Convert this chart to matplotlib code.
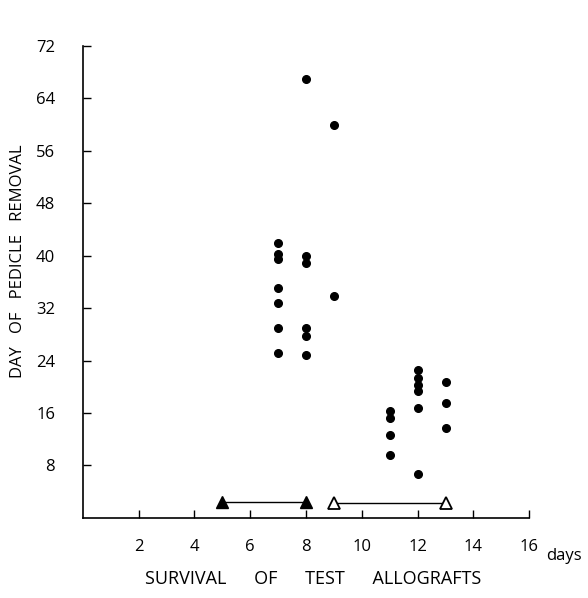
import matplotlib
matplotlib.use("Agg")
import matplotlib.pyplot as plt

# dots: survival of test allograft (days) vs day of pedicle removal
dots_x = [7, 7, 7, 7, 7, 7, 7,
          8, 8, 8, 8, 8, 8,
          9, 9,
          11, 11, 11, 11,
          12, 12, 12, 12, 12, 12,
          13, 13, 13]
dots_y = [42.0, 40.3, 39.5, 35.1, 32.8, 29.0, 25.1,
          67.0, 40.0, 38.9, 28.9, 27.8, 24.9,
          60.0, 33.9,
          16.3, 15.2, 12.6, 9.6,
          22.6, 21.3, 20.3, 19.4, 16.7, 6.7,
          20.7, 17.6, 13.7]

# control ranges shown as triangles joined by a line
filled_x = [5, 8]
filled_y = [2.4, 2.4]
open_x = [9, 13]
open_y = [2.2, 2.2]

x_ticks = [2, 4, 6, 8, 10, 12, 14, 16]
y_ticks = [8, 16, 24, 32, 40, 48, 56, 64, 72]

plt.rcParams["font.family"] = ["Open Sans", "DejaVu Sans"]

fig = plt.figure(figsize=(5.88, 5.98), dpi=100)
ax = fig.add_axes([0.141, 0.134, 0.759, 0.789])

ax.plot(dots_x, dots_y, "o", color="black", markersize=5.5, linestyle="none")
ax.plot(filled_x, filled_y, "-^", color="black", markersize=8, linewidth=1)
ax.plot(open_x, open_y, "-^", color="black", markerfacecolor="white",
        markeredgewidth=1.3, markersize=8, linewidth=1)

ax.set_xlim(0, 16)
ax.set_ylim(0, 72)
ax.set_xticks(x_ticks)
ax.set_yticks(y_ticks)
ax.tick_params(direction="in", length=6, width=1, labelsize=12, pad=15)
ax.tick_params(axis="y", pad=20)

for side in ["top", "right"]:
    ax.spines[side].set_visible(False)
for side in ["left", "bottom"]:
    ax.spines[side].set_linewidth(1.2)

ax.text(16.6, -5.8, "days", fontsize=12, ha="left", va="center")

ax.set_xlabel("SURVIVAL      OF      TEST      ALLOGRAFTS", fontsize=13)
ax.set_ylabel("DAY   OF   PEDICLE   REMOVAL", fontsize=12)
ax.xaxis.set_label_coords(0.516, -0.11)
ax.yaxis.set_label_coords(-0.127, 0.545)

fig.savefig("out.png", dpi=100)
